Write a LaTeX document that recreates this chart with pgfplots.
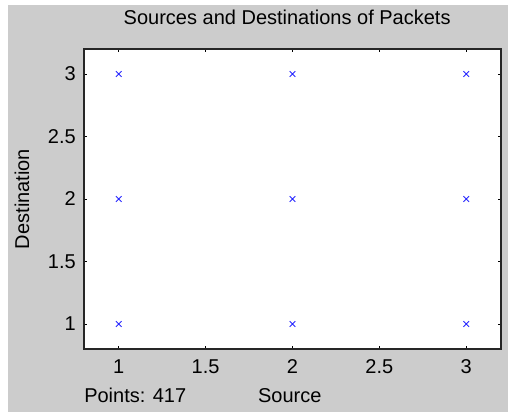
\documentclass[border=0pt]{standalone}
\usepackage{pgfplots}
\pgfplotsset{compat=1.18}
\usepackage{fontspec}
\setmainfont{Liberation Sans}
\usetikzlibrary{backgrounds}
\definecolor{figgray}{RGB}{204,204,204}
\definecolor{mkblue}{RGB}{40,40,255}

\begin{document}
\begin{tikzpicture}
\begin{axis}[
    name=ax,
    scale only axis,
    width=312.75pt, height=225pt,
    xmin=0.8, xmax=3.2,
    ymin=0.8, ymax=3.2,
    xtick={1,1.5,...,3},
    ytick={1,1.5,...,3},
    tick align=inside,
    major tick length=2.5pt,
    tick style={black, line width=0.6pt},
    axis line style={black!85, line width=1.1pt},
    axis background/.style={fill=white},
    font=\fontsize{15}{18}\selectfont,
    /pgf/number format/assume math mode=true,
    xticklabel style={anchor=base, yshift=-18pt},
    yticklabel style={anchor=east, inner sep=0pt, xshift=-6pt},
    title={Sources and Destinations of Packets},
    title style={at={(axis description cs:0.5,1)}, anchor=base, yshift=12.75pt, xshift=-4pt},
    xlabel={Source},
    xlabel style={at={(axis description cs:0.5,0)}, anchor=base, yshift=-39.75pt, xshift=-2pt},
    ylabel={Destination},
    ylabel style={at={(axis description cs:-0.1487,0.5)}, anchor=center},
]
\addplot[only marks, mark=x, mark size=3pt, color=mkblue, mark options={line width=0.6pt}]
coordinates{(1,1)(1,2)(1,3)(2,1)(2,2)(2,3)(3,1)(3,2)(3,3)};
\end{axis}
\node[anchor=base west, inner sep=0pt, font=\fontsize{15}{18}\selectfont]
  at ([yshift=-39.75pt]ax.south west) {Points: 417};
\begin{pgfonlayer}{background}
\fill[white] ([shift={(-63pt,-47.25pt)}]ax.south west) rectangle ([shift={(5.25pt,36.75pt)}]ax.north east);
\fill[figgray] ([shift={(-57pt,-47.25pt)}]ax.south west) rectangle ([shift={(5.25pt,33pt)}]ax.north east);
\end{pgfonlayer}
\end{tikzpicture}
\end{document}
